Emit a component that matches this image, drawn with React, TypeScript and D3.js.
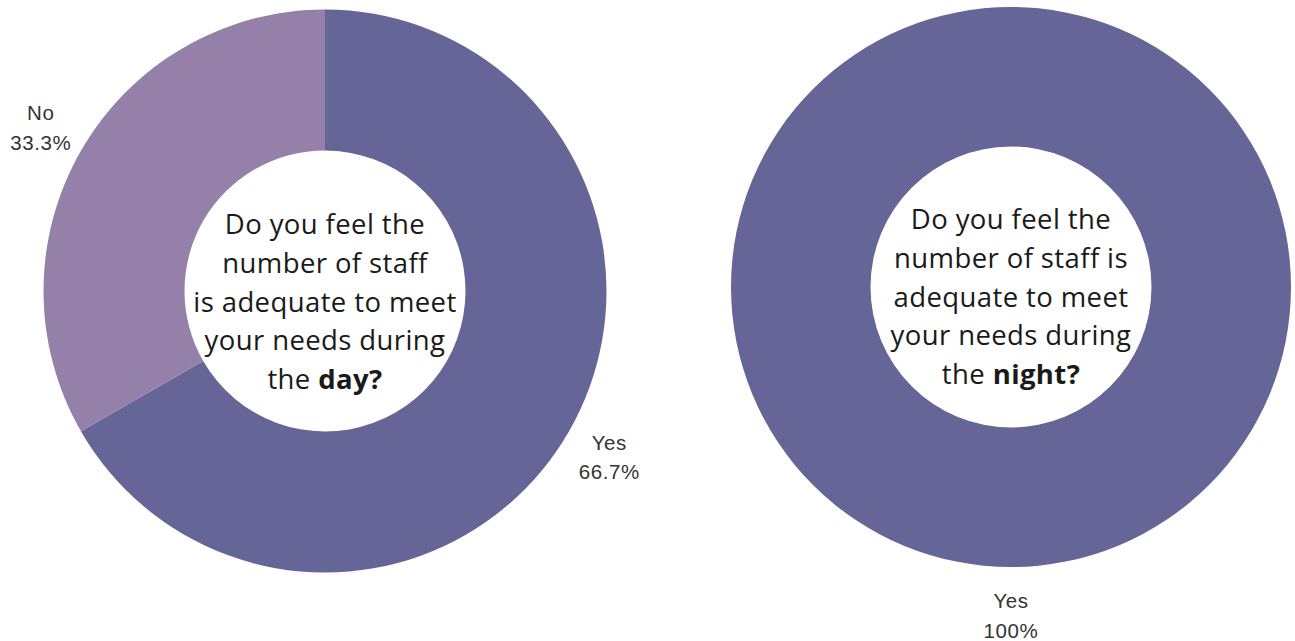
import React from "react";
import * as d3 from "d3";

const dayCategories = ["Yes", "No"];
const dayValues = [66.7, 33.3];
const nightCategories = ["Yes"];
const nightValues = [100];
const dayQuestion = ["Do you feel the", "number of staff", "is adequate to meet", "your needs during"];
const nightQuestion = ["Do you feel the", "number of staff is", "adequate to meet", "your needs during"];
const dayLastWord = "day?";
const nightLastWord = "night?";

const colors: Record<string, string> = { Yes: "#656597", No: "#9580aa" };

function Donut({ cx, cy, outer, inner, cats, vals, lines, bold, textTop }: any) {
  const data = cats.map((c: string, i: number) => ({ cat: c, val: vals[i] }));
  const pie = d3.pie<any>().value((d: any) => d.val).sort(null);
  const arcs = pie(data);
  const arc = d3.arc<any>().innerRadius(inner).outerRadius(outer);
  const labelR = outer + 47;
  const lh = 38.8;
  return (
    <g transform={`translate(${cx},${cy})`}>
      {arcs.map((a: any, i: number) => (
        <path key={i} d={arc(a) as string} fill={colors[a.data.cat]} />
      ))}
      {arcs.map((a: any, i: number) => {
        const m = (a.startAngle + a.endAngle) / 2;
        const x = Math.sin(m) * labelR;
        const y = -Math.cos(m) * labelR;
        return (
          <text key={"l" + i} x={x} y={y} textAnchor="middle" fontFamily="'Liberation Sans', Arial, sans-serif" fontSize={20.5} letterSpacing={0.6} fill="#333">
            <tspan x={x} dy={-6}>{a.data.cat}</tspan>
            <tspan x={x} dy={29.5}>{d3.format(".3~r")(a.data.val) + "%"}</tspan>
          </text>
        );
      })}
      <text textAnchor="middle" fontFamily="'Open Sans', sans-serif" fontSize={27.5} letterSpacing={0.4} fill="#1a1a1a">
        {lines.map((l: string, i: number) => (
          <tspan key={i} x={0} y={textTop + i * lh}>{l}</tspan>
        ))}
        <tspan x={0} y={textTop + lines.length * lh}>
          the <tspan fontWeight="bold">{bold}</tspan>
        </tspan>
      </text>
    </g>
  );
}

export default function App() {
  return (
    <svg width={1295} height={641} style={{ position: "absolute", left: 0, top: 0, background: "#fff" }}>
      <Donut cx={325} cy={291} outer={281.5} inner={140.5} cats={dayCategories} vals={dayValues} lines={dayQuestion} bold={dayLastWord} textTop={-57} />
      <Donut cx={1011} cy={287} outer={280} inner={140.5} cats={nightCategories} vals={nightValues} lines={nightQuestion} bold={nightLastWord} textTop={-58} />
    </svg>
  );
}
